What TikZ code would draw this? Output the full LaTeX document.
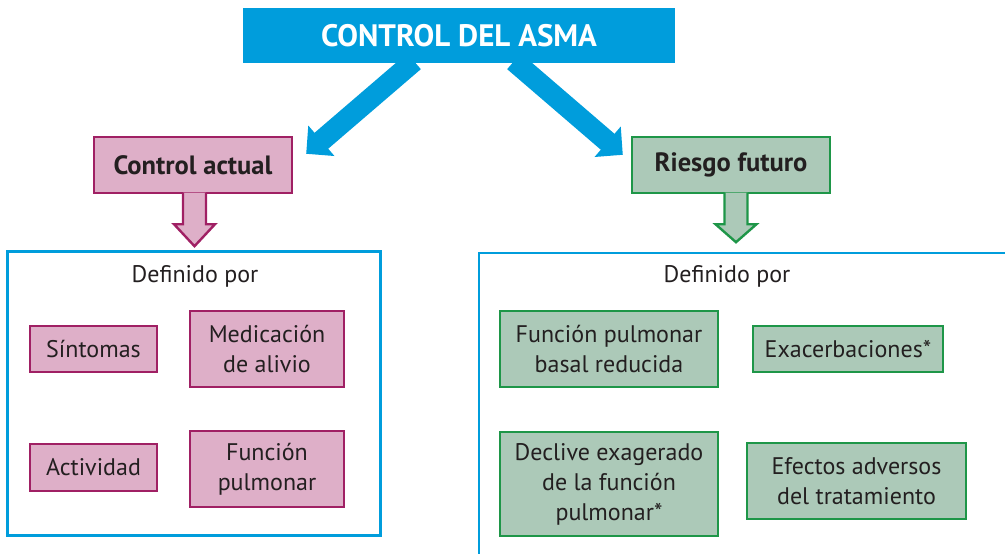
\documentclass[tikz,border=0pt]{standalone}
\usepackage{fontspec}
\setmainfont{PT Sans}
\usetikzlibrary{arrows.meta}

\definecolor{asmablue}{RGB}{0,157,220}
\definecolor{actualfill}{RGB}{222,175,200}
\definecolor{actualdraw}{RGB}{160,32,100}
\definecolor{riesgofill}{RGB}{172,201,184}
\definecolor{riesgodraw}{RGB}{30,150,72}
\definecolor{textdark}{RGB}{35,31,32}

\begin{document}
\begin{tikzpicture}[x=1pt, y=-1pt,
		base/.style={draw, line width=2.4pt, align=center, inner sep=0pt, text=textdark, font=\fontsize{24}{30}\selectfont},
		actual/.style={base, draw=actualdraw, fill=actualfill},
		riesgo/.style={base, draw=riesgodraw, fill=riesgofill},
		header/.style={actual, minimum width=198pt, minimum height=56pt, font=\bfseries\fontsize{26.5}{30}\selectfont},
		frame/.style={draw=asmablue, line width=2.2pt, inner sep=0pt},
		bigarrow/.style={asmablue, line width=21pt, -{Triangle[width=39pt, length=20pt]}},
		blockarrow/.style={line width=2.4pt, line join=miter},
	]
	\useasboundingbox (0,0) rectangle (1005,554);

	\node[fill=asmablue, minimum width=432pt, minimum height=55pt, text=white, font=\bfseries\fontsize{31}{34}\selectfont] (title) at (459,35.5) {CONTROL DEL ASMA};

	\node[header] (actual) at (193,165) {Control actual};
	\node[header, draw=riesgodraw, fill=riesgofill] (riesgo) at (731,165) {Riesgo futuro};

	\draw[bigarrow] ([shift={(-45,-2)}]title.south) -- ([shift={(13,18)}]actual.north east);
	\draw[bigarrow] ([shift={(55,-2)}]title.south) -- ([shift={(-8,19)}]riesgo.north west);

	% marcos
	\node[frame, minimum width=373pt, minimum height=284pt] (marcoA) at (194,393.5) {};
	\node[frame, minimum width=540pt, minimum height=320pt, anchor=north west] (marcoB) at (477.5,251.5) {};
	\node[font=\fontsize{24}{30}\selectfont, text=textdark] (defA) at (195,276) {Definido por};
	\node[font=\fontsize{24}{30}\selectfont, text=textdark] (defB) at (727,276) {Definido por};

	\filldraw[blockarrow, draw=actualdraw, fill=actualfill] ([shift={(-10,-1.5)}]actual.south) -- ++(0,31.5) -- ++(-9,0) -- ++(20.5,22) -- ++(20.5,-22) -- ++(-9,0) -- ++(0,-31.5);
	\filldraw[blockarrow, draw=riesgodraw, fill=riesgofill] ([shift={(-6.5,-1.5)}]riesgo.south) -- ++(0,31.5) -- ++(-9,0) -- ++(20.5,18) -- ++(20.5,-18) -- ++(-9,0) -- ++(0,-31.5);

	% control actual
	\node[actual, minimum width=127pt, minimum height=46pt] (sintomas) at (93.5,349) {Síntomas};
	\node[actual, minimum width=154pt, minimum height=76pt] (medicacion) at (267,349) {Medicación\\de alivio};
	\node[actual, minimum width=127pt, minimum height=47pt] (actividad) at (93.5,467.5) {Actividad};
	\node[actual, minimum width=154pt, minimum height=76pt] (funcion) at (267,469) {Función\\pulmonar};

	% riesgo futuro
	\node[riesgo, minimum width=218pt, minimum height=76pt] (basal) at (609,349) {Función pulmonar\\basal reducida};
	\node[riesgo, minimum width=190pt, minimum height=46pt] (exacerb) at (848,349) {Exacerbaciones*};
	\node[riesgo, minimum width=218pt, minimum height=104pt] (declive) at (609,484) {Declive exagerado\\de la función\\pulmonar*};
	\node[riesgo, minimum width=219pt, minimum height=76pt] (efectos) at (856.5,481) {Efectos adversos\\del tratamiento};
\end{tikzpicture}
\end{document}
